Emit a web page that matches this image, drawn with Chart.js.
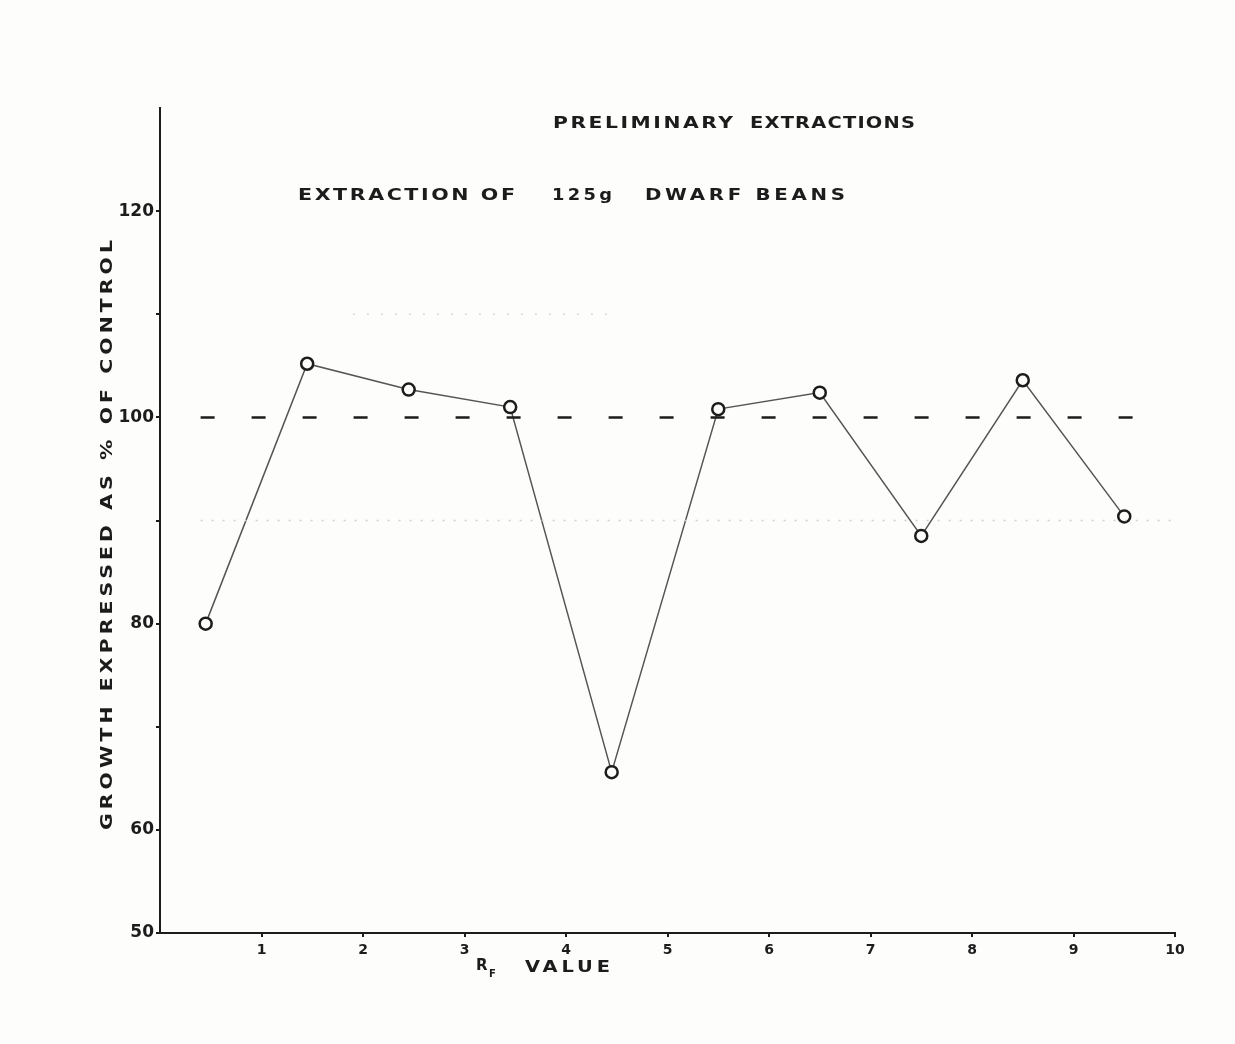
<!DOCTYPE html>
<html>
<head>
<meta charset="utf-8">
<script src="https://cdn.jsdelivr.net/npm/chart.js@4"></script>
<style>
  body { margin: 0; background: #fdfdfb; }
  #growthChart { display: block; }
</style>
</head>
<body>
<canvas id="growthChart" width="1235" height="1044"></canvas>
<script>
// Rf positions of the extract bands and growth as % of control
const rfValues = [0.45, 1.45, 2.45, 3.45, 4.45, 5.5, 6.5, 7.5, 8.5, 9.5];
const growthPct = [80, 105.2, 102.7, 101, 65.6, 100.8, 102.4, 88.5, 103.6, 90.4];

// control level (dashed) and faint guide lines
const controlX = [0.4, 9.65];
const controlY = [100, 100];
const guide90X = [0.4, 10];
const guide90Y = [90, 90];
const guide110X = [1.9, 4.45];
const guide110Y = [110, 110];

const yLabels = [50, 60, 80, 100, 120];
const xLabels = [1, 2, 3, 4, 5, 6, 7, 8, 9, 10];

const titleLine1 = ['PRELIMINARY', 'EXTRACTIONS'];
const titleLine2 = ['EXTRACTION OF', '125g', 'DWARF BEANS'];
const yTitle = 'GROWTH EXPRESSED AS % OF CONTROL';

const toPoints = (xs, ys) => xs.map((x, i) => ({ x: x, y: ys[i] }));

const ink = '#1c1c1c';

// stretch a word to a given width: a bit of spacing, then widen the glyphs
function fitText(ctx, text, x, y, width, spacing) {
  ctx.save();
  ctx.letterSpacing = spacing + 'px';
  const w = ctx.measureText(text).width - spacing;
  ctx.translate(x, y);
  ctx.scale(width / w, 1);
  ctx.fillText(text, 0, 0);
  ctx.restore();
}

// draws the hand-lettered titles
const lettering = {
  id: 'lettering',
  afterDraw(chart) {
    const ctx = chart.ctx;
    ctx.save();
    ctx.fillStyle = ink;
    ctx.textBaseline = 'middle';
    ctx.textAlign = 'left';

    ctx.font = 'bold 16px "DejaVu Sans"';
    fitText(ctx, titleLine1[0], 553, 124, 180, 2);
    fitText(ctx, titleLine1[1], 750, 124, 165, 1);
    fitText(ctx, titleLine2[0], 298, 196, 217, 2);
    fitText(ctx, titleLine2[1], 552, 196, 60, 3);
    fitText(ctx, titleLine2[2], 645, 196, 200, 3);

    // x axis title R_F VALUE
    ctx.font = 'bold 15px "DejaVu Sans"';
    ctx.fillText('R', 476, 966);
    ctx.font = 'bold 10px "DejaVu Sans"';
    ctx.fillText('F', 489, 974);
    ctx.font = 'bold 15px "DejaVu Sans"';
    fitText(ctx, 'VALUE', 525, 968, 85, 3);

    // y axis title
    ctx.translate(108, 535);
    ctx.rotate(-Math.PI / 2);
    ctx.font = 'bold 15px "DejaVu Sans"';
    fitText(ctx, yTitle, -295, 0, 590, 3);
    ctx.restore();
  }
};

const ctx = document.getElementById('growthChart').getContext('2d');
const growthChart = new Chart(ctx, {
  type: 'scatter',
  data: {
    datasets: [
      {
        label: 'guide 90',
        data: toPoints(guide90X, guide90Y),
        showLine: true,
        borderColor: '#d0d0cc',
        borderWidth: 1.5,
        borderDash: [2, 9],
        pointRadius: 0,
      },
      {
        label: 'guide 110',
        data: toPoints(guide110X, guide110Y),
        showLine: true,
        borderColor: '#d6d6d2',
        borderWidth: 1.5,
        borderDash: [2, 12],
        pointRadius: 0,
      },
      {
        label: 'control',
        data: toPoints(controlX, controlY),
        showLine: true,
        borderColor: ink,
        borderWidth: 2.5,
        borderDash: [14, 37],
        pointRadius: 0,
      },
      {
        label: 'growth',
        data: toPoints(rfValues, growthPct),
        showLine: true,
        borderColor: '#555',
        borderWidth: 1.5,
        pointRadius: 6,
        pointBorderWidth: 2.5,
        pointBorderColor: ink,
        pointBackgroundColor: '#fdfdfb',
      },
    ],
  },
  options: {
    responsive: false,
    animation: false,
    layout: { padding: { top: 108, right: 60, left: 0, bottom: 0 } },
    plugins: {
      legend: { display: false },
      tooltip: { enabled: false },
    },
    scales: {
      x: {
        type: 'linear',
        min: 0,
        max: 10,
        afterFit(scale) { scale.height = 111; },
        afterBuildTicks(scale) { scale.ticks = xLabels.map(v => ({ value: v })); },
        border: { color: ink, width: 2 },
        grid: { drawOnChartArea: false, drawTicks: true, tickLength: 4, color: ink, lineWidth: 2 },
        ticks: {
          color: ink,
          font: { family: 'DejaVu Sans', size: 14, weight: 'bold' },
          padding: 5,
          maxRotation: 0,
        },
      },
      y: {
        type: 'linear',
        min: 50,
        max: 130,
        afterFit(scale) { scale.width = 160; },
        afterBuildTicks(scale) {
          const t = [];
          for (let v = 60; v <= 120; v += 10) t.push({ value: v });
          t.unshift({ value: 50 });
          scale.ticks = t;
        },
        border: { color: ink, width: 2 },
        grid: { drawOnChartArea: false, drawTicks: true, tickLength: 4, color: ink, lineWidth: 2 },
        ticks: {
          color: ink,
          font: { family: 'DejaVu Sans', size: 17, weight: 'bold' },
          padding: 2,
          callback: v => (yLabels.includes(v) ? String(v) : ''),
        },
      },
    },
  },
  plugins: [lettering],
});
</script>
</body>
</html>
